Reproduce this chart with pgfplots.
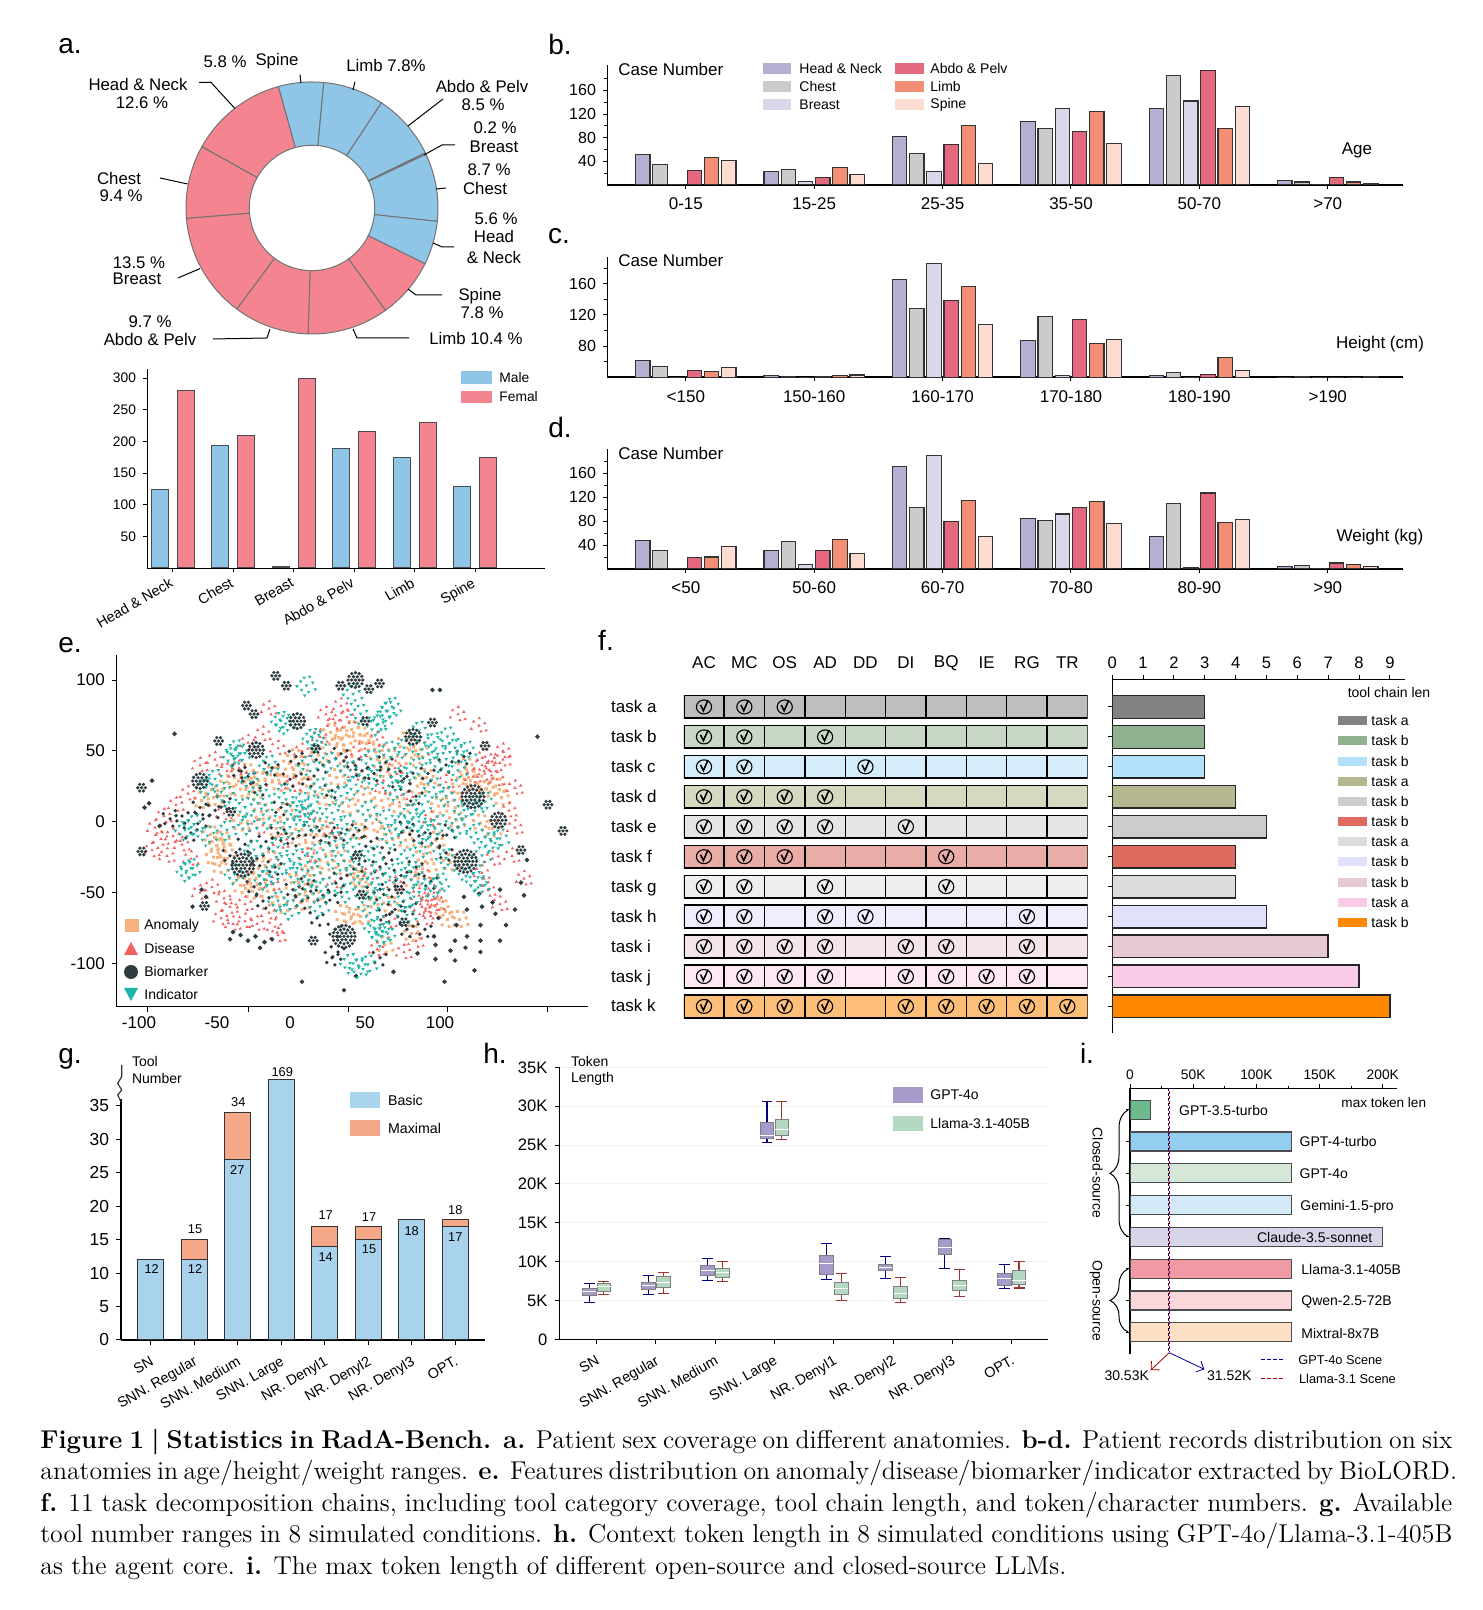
\documentclass[border=0pt]{standalone}
\usepackage{fontspec}
\newfontfamily\arial{Liberation Sans}
\usepackage{pgfplots}
\usepackage{pgfplotstable}
\pgfplotsset{compat=1.18}
\usepgfplotslibrary{statistics}
\usetikzlibrary{decorations.pathreplacing,arrows.meta}

\definecolor{mblue}{HTML}{8FC6E8}
\definecolor{fpink}{HTML}{F4848F}
\definecolor{cH}{HTML}{B4B0D2}
\definecolor{cC}{HTML}{CBCBCB}
\definecolor{cB}{HTML}{D9D8EA}
\definecolor{cA}{HTML}{E4687E}
\definecolor{cL}{HTML}{F28E74}
\definecolor{cS}{HTML}{FCDCD0}
\definecolor{edge}{HTML}{333333}
\definecolor{org}{HTML}{F5B27E}
\definecolor{dis}{HTML}{F1615F}
\definecolor{bio}{HTML}{2F3D40}
\definecolor{ind}{HTML}{1FB5A8}
\definecolor{fa}{HTML}{BEBEBE}\definecolor{ba}{HTML}{828282}
\definecolor{fb}{HTML}{C9D8C6}\definecolor{bb}{HTML}{90B18F}
\definecolor{fc}{HTML}{D5EDFB}\definecolor{bc}{HTML}{B3E0FA}
\definecolor{fd}{HTML}{D6D9BF}\definecolor{bd}{HTML}{B5B88E}
\definecolor{fe}{HTML}{E6E6E6}\definecolor{be}{HTML}{CDCDCD}
\definecolor{ff}{HTML}{E9ACA6}\definecolor{bf}{HTML}{DF6A5F}
\definecolor{fg}{HTML}{EFEFEF}\definecolor{bg}{HTML}{DCDCDC}
\definecolor{fh}{HTML}{EEEEFE}\definecolor{bh}{HTML}{E1E1FB}
\definecolor{fi}{HTML}{F3E5E8}\definecolor{bi}{HTML}{E6C9D2}
\definecolor{fj}{HTML}{FDE8F3}\definecolor{bj}{HTML}{FACBE8}
\definecolor{fk}{HTML}{FDBE78}\definecolor{bk}{HTML}{FF8800}
\definecolor{gblue}{HTML}{A9D3EC}
\definecolor{gorg}{HTML}{F4A888}
\definecolor{hpur}{HTML}{A79BCB}
\definecolor{hgrn}{HTML}{B5D8C3}
\definecolor{ia}{HTML}{6DBB8D}\definecolor{ib}{HTML}{93CDF0}\definecolor{ic}{HTML}{D5E7D8}\definecolor{id}{HTML}{D3E9F8}
\definecolor{ie}{HTML}{D9D5E9}\definecolor{if}{HTML}{F29AA4}\definecolor{ig}{HTML}{F9D7DB}\definecolor{ih}{HTML}{FDE0C5}

\newcommand\sz[1]{\arial\fontsize{#1}{#1}\selectfont}
% text at picture pixels: [anchor]{size pt}{x}{y}{text}
\newcommand\T[5][center]{\node[anchor=#1,inner sep=0pt,font=\sz{#2}] at (#3,#4) {#5};}

\pgfplotsset{
  /pgf/number format/assume math mode=true,
  % left, top, right, bottom of the axis box in picture pixels
  pbox/.style n args={4}{scale only axis,anchor=south west,
    at={({#1*0.5pt},{(1610-#4)*0.5pt})},
    width={(#3-#1)*0.5pt},height={(#4-#2)*0.5pt}},
  every tick/.style={black,line width=.5pt},
  tick align=outside,
  major tick length=2pt,minor tick length=1.3pt,
  scaled ticks=false,
  sixb/.style={ybar=1.4pt,bar width=7.2pt,axis lines*=left,
    xmin=-0.614,xmax=5.586,xtick={0,...,5},
    x axis line style={line width=1pt},
    tick label style={font=\sz{8}},
    xticklabel style={font=\sz{8.5},yshift=-1pt},
    every axis plot/.append style={draw=edge,line width=.55pt}},
  rotlab/.style={xticklabel style={rotate=30,anchor=north east,font=\sz{7.2},inner sep=1pt,yshift=-3pt,xshift=-2pt}}
}

% plot marks
\pgfdeclareplotmark{chk}{%
  \pgfsetlinewidth{.55pt}%
  \pgfpathellipse{\pgfpointorigin}{\pgfqpoint{3.8pt}{0pt}}{\pgfqpoint{0pt}{3.5pt}}\pgfusepathqstroke
  \pgfsetlinewidth{.8pt}%
  \pgfpathmoveto{\pgfqpoint{-1.7pt}{1pt}}\pgfpathlineto{\pgfqpoint{-.3pt}{-1.9pt}}\pgfpathlineto{\pgfqpoint{2pt}{3.4pt}}\pgfusepathqstroke}
\def\sq#1#2{\pgfpathrectangle{\pgfqpoint{#1pt}{#2pt}}{\pgfqpoint{1.5pt}{1.5pt}}}
\pgfdeclareplotmark{cq}{\sq{0}{0}\sq{3.3}{.8}\sq{-3.4}{1.2}\sq{.8}{-3.6}\sq{-2.7}{-2.8}\sq{4.2}{-2.6}\sq{-1}{4}\sq{2.2}{3.6}\pgfusepathqfill}
\def\up#1#2{\pgfpathmoveto{\pgfpoint{#1pt-.85pt}{#2pt-.6pt}}\pgfpathlineto{\pgfpoint{#1pt+.85pt}{#2pt-.6pt}}\pgfpathlineto{\pgfpoint{#1pt}{#2pt+.8pt}}\pgfpathclose}
\def\dn#1#2{\pgfpathmoveto{\pgfpoint{#1pt-.9pt}{#2pt+.65pt}}\pgfpathlineto{\pgfpoint{#1pt+.9pt}{#2pt+.65pt}}\pgfpathlineto{\pgfpoint{#1pt}{#2pt-.85pt}}\pgfpathclose}
\pgfdeclareplotmark{ct}{\up{0}{0}\up{2.9}{1.2}\up{-2.7}{2}\up{1}{-2.9}\up{-3.8}{-1.6}\up{3.6}{-2.4}\up{.2}{3.7}\pgfusepathqfill}
\pgfdeclareplotmark{cd}{\dn{0}{0}\dn{3.1}{1.4}\dn{-2.9}{2}\dn{1}{-3.2}\dn{-2.5}{-2.2}\dn{4.4}{-2}\dn{-4.8}{-.4}\dn{1.6}{4.4}\dn{-1.2}{3.9}\dn{-.9}{-5}\pgfusepathqfill}
\def\dt#1#2{\pgfpathcircle{\pgfqpoint{#1pt}{#2pt}}{.95pt}}
\pgfdeclareplotmark{cb}{\dt{0}{0}\dt{3}{1.6}\dt{-2.6}{-2.4}\dt{1.4}{-3.6}\dt{-3.4}{2.6}\pgfusepathqfill}
\def\ring#1#2#3{\foreach \a in {0,#1,...,#2}{\pgfpathcircle{\pgfpointpolar{\a}{#3}}{.9pt}\pgfusepathqfill}}
\pgfdeclareplotmark{bs}{\pgfpathcircle{\pgfpointorigin}{.9pt}\pgfusepathqfill\ring{60}{300}{1.9pt}}
\pgfdeclareplotmark{bm}{\pgfpathcircle{\pgfpointorigin}{.9pt}\pgfusepathqfill\ring{60}{300}{1.9pt}\ring{30}{330}{3.7pt}}
\pgfdeclareplotmark{bl}{\pgfpathcircle{\pgfpointorigin}{.9pt}\pgfusepathqfill\ring{60}{300}{1.9pt}\ring{30}{330}{3.7pt}\ring{20}{340}{5.5pt}}

% donut sector: start %, end %, colour
\newcommand\sector[3]{%
  \gdef\pts{}%
  \foreach \k in {0,...,16}{%
    \pgfmathsetmacro\ang{-15.5+3.6*(#1+(#2-#1)*\k/16)}%
    \pgfmathsetmacro\px{126*sin(\ang)}\pgfmathsetmacro\py{126*cos(\ang)}%
    \xdef\pts{\pts(\px,\py)}}%
  \foreach \k in {16,...,0}{%
    \pgfmathsetmacro\ang{-15.5+3.6*(#1+(#2-#1)*\k/16)}%
    \pgfmathsetmacro\px{62.7*sin(\ang)}\pgfmathsetmacro\py{62.7*cos(\ang)}%
    \xdef\pts{\pts(\px,\py)}}%
  \edef\tmp{\noexpand\addplot[fill=#3,draw=black!55,line width=.5pt] coordinates {\pts} --cycle;}\tmp}

\newcommand\sixbars[1]{%
  \addplot[fill=cH] table[x=n,y=H]{#1};
  \addplot[fill=cC] table[x=n,y=C]{#1};
  \addplot[fill=cB] table[x=n,y=B]{#1};
  \addplot[fill=cA] table[x=n,y=A]{#1};
  \addplot[fill=cL] table[x=n,y=L]{#1};
  \addplot[fill=cS] table[x=n,y=S]{#1};}

\newcommand\taskrow[2]{%
  \addplot[xbar,bar shift=0pt,bar width=11.3pt,fill=#2,draw=black,line width=.8pt] coordinates {(10,#1)};
  \addplot[only marks,mark=|,mark size=5.65pt,black,line width=.7pt] coordinates {(1,#1)(2,#1)(3,#1)(4,#1)(5,#1)(6,#1)(7,#1)(8,#1)(9,#1)};}
\newcommand\lenbar[3]{\addplot[xbar,bar shift=0pt,bar width=11.3pt,fill=#3,draw=black!85,line width=.7pt] coordinates {(#1,#2)};}
\newcommand\modelbar[3]{\addplot[xbar,bar shift=0pt,bar width=9.5pt,fill=#3,draw=black!70,line width=.6pt] coordinates {(#1,#2)};}

% box: position, colour, whisker colour, low, q1, median, q3, high
\newcommand\bx[8]{\addplot[draw=black!50,fill=#2,line width=.4pt,
  boxplot prepared={draw direction=y,draw position=#1,lower whisker=#4,lower quartile=#5,median=#6,upper quartile=#7,upper whisker=#8,box extend=.231,
    every whisker/.style={draw=#3,line width=.55pt},every median/.style={draw=white,line width=.5pt}}] coordinates {};}

\pgfplotstableread{
n H C B A L S
0 52 35 1 25 47 41
1 23 26 6 13 29 17
2 82 53 23 68 101 37
3 107 95 129 90 124 70
4 129 185 142 193 95 132
5 8 5 0.5 12 5 3
}\tabB
\pgfplotstableread{
n H C B A L S
0 61.6 54 40 49 48 53
1 42 41 40 40.5 42 43
2 165 128 186 139 156 108
3 87 118 42 114 83 89
4 42.5 46 40 44 65 49
5 40 41 40 40 40 41
}\tabC
\pgfplotstableread{
n H C B A L S
0 47 31 1 19 20 37
1 31 46 8 31 49 26
2 172 103 190 80 115 55
3 85 81 92 103 113 76
4 55 110 3 127 78 83
5 4 6 1 10 8 4
}\tabD

\begin{document}
\begin{tikzpicture}
\path[use as bounding box] (0,0) rectangle (741pt,805pt);

% a. donut
\begin{axis}[pbox={180}{76}{444}{340},hide axis,xmin=-132,xmax=132,ymin=-132,ymax=132,clip=false]
\sector{0}{5.8}{mblue}
\sector{5.8}{13.6}{mblue}
\sector{13.6}{22.1}{mblue}
\sector{22.1}{22.3}{mblue}
\sector{22.3}{31}{mblue}
\sector{31}{36.6}{mblue}
\sector{36.6}{44.4}{fpink}
\sector{44.4}{54.8}{fpink}
\sector{54.8}{64.5}{fpink}
\sector{64.5}{78}{fpink}
\sector{78}{87.4}{fpink}
\sector{87.4}{100}{fpink}
\end{axis}

% a. bars
\begin{axis}[pbox={147}{369}{545}{568},axis lines*=left,ybar=4.5pt,bar width=8.5pt,
  xmin=-0.43,xmax=6.155,ymin=0,ymax=314.5,ytick={50,100,...,300},xtick={0,...,5},
  xticklabels={Head \& Neck,Chest,Breast,Abdo \& Pelv,Limb,Spine},
  tick label style={font=\sz{6.9}},
  xticklabel style={rotate=30,anchor=north east,font=\sz{7.2},inner sep=1pt,yshift=0pt,xshift=-2pt},
  every axis plot/.append style={draw=black!70,line width=.5pt}]
\addplot[fill=mblue] coordinates {(0,124)(1,194)(2,3)(3,189)(4,174)(5,129)};
\addplot[fill=fpink] coordinates {(0,281)(1,209)(2,300)(3,215)(4,230)(5,174)};
\end{axis}

% b, c, d.
\begin{axis}[pbox={607}{65}{1403}{185},sixb,ymin=0,ymax=203,ytick={40,80,120,160},minor ytick={20,60,...,200},
  xticklabels={0-15,15-25,25-35,35-50,50-70,>70}]
\sixbars{\tabB}
\end{axis}
\begin{axis}[pbox={607}{257.3}{1403}{377.4},sixb,ymin=40,ymax=194,ytick={80,120,160},minor ytick={60,100,...,180},
  xticklabels={<150,150-160,160-170,170-180,180-190,>190}]
\sixbars{\tabC}
\end{axis}
\begin{axis}[pbox={607}{449.4}{1403}{569},sixb,ymin=0,ymax=200,ytick={40,80,120,160},minor ytick={20,60,...,200},
  xticklabels={<50,50-60,60-70,70-80,80-90,>90}]
\sixbars{\tabD}
\end{axis}

% e. scatter
\begin{axis}[pbox={116.8}{655}{588}{1006.7},axis lines*=left,
  xmin=-115.5,xmax=198.7,ymin=-130.6,ymax=117.7,
  xtick={-95.3,-28,38.7,105.3,172},xticklabels={},
  ytick={-100,-50,0,50,100},yticklabels={-100,-50,0,50,100},
  tick label style={font=\sz{8.5}},major tick length=2.5pt]
\addplot[only marks,mark=cq,org] coordinates {(-38,30)(-30,34)(-22,28)(-34,22)(-26,20)(-46,22)(-52,16)(-60,14)(-14,32)(-4,36)(6,34)(2,44)(-8,26)(-54,-10)(-50,-18)(-46,-14)(-52,-26)(-48,-32)(-44,-22)(26,62)(34,58)(40,64)(46,60)(30,52)(50,54)(56,48)(66,44)(60,36)(76,56)(86,50)(80,44)(36,44)(18,46)(10,24)(22,16)(30,30)(38,10)(48,18)(60,14)(72,10)(84,24)(90,30)(98,10)(20,-6)(30,-18)(44,-8)(54,-2)(62,-10)(76,-14)(88,-24)(96,-14)(106,-30)(-10,-6)(-20,6)(-34,-2)(-4,6)(4,-12)(14,-16)(118,30)(124,26)(130,22)(136,24)(112,24)(108,14)(116,38)(126,-2)(134,-6)(110,0)(140,16)(-22,-34)(-14,-28)(-28,-42)(-34,-46)(-26,-50)(-16,-50)(0,-44)(8,-40)(14,-34)(24,-30)(36,-34)(46,-42)(-8,-60)(6,-58)(14,-52)(40,-68)(46,-68)(34,-66)(52,-56)(66,-60)(80,-42)(92,-36)(104,-70)(112,-70)(80,-80)(62,-88)(100,-62)(44,-40)};
\addplot[only marks,mark=ct,dis] coordinates {(-90,-4)(-86,-12)(-92,-20)(-82,-24)(-78,-10)(-84,4)(-72,-16)(-66,-26)(-76,12)(-68,20)(-60,40)(-50,44)(-42,36)(-28,56)(-18,62)(-14,80)(34,82)(38,74)(30,70)(24,76)(20,60)(8,50)(-8,52)(46,50)(58,58)(70,38)(112,76)(126,68)(130,46)(136,40)(142,44)(130,34)(138,30)(150,24)(142,50)(128,40)(122,32)(146,8)(150,-4)(148,-24)(156,-40)(135,-26)(128,-36)(132,-48)(140,-58)(-60,-50)(-52,-46)(-44,-54)(-40,-60)(-46,-68)(-38,-72)(-30,-70)(-22,-72)(-14,-64)(-10,-74)(-8,-80)(-30,-58)(92,-56)(94,-64)(88,-60)(98,-58)(86,-52)(90,-68)(96,-50)(12,6)(28,-6)(44,34)(62,24)(78,16)(94,2)(104,28)(88,-36)(70,-44)(54,-36)(30,-42)(12,-24)(-6,-14)(-22,-4)(-44,6)(-34,38)(2,26)(-12,-44)(66,-70)(76,-92)(84,-84)(58,-90)};
\addplot[only marks,mark=*,mark size=.95pt,bio] coordinates {(-77,62)(95,93)(100,93)(165,60)(8,-113)(36,-119)(44,-109)(69,-106)(103,-113)(123,-105)(97,-97)(110,-98)(85,-93)(97,-87)(107,-91)(117,-89)(127,-92)(127,-84)(110,-84)(118,-81)(96,-81)(127,-73)(111,-73)(99,-68)(118,-62)(128,-60)(116,-53)(126,-51)(140,-48)(156,-52)(154,-43)(150,-62)(137,-65)(135,-57)(144,-73)(140,-84)(158,-27)(-38,-78)(-40,-83)(-33,-80)(-28,-84)(-23,-81)(-17,-85)(-12,-83)(-20,-89)(-59,-48)(-56,-53)(-65,-60)(-92,29)(-94,13)(-97,10)(-87,-3)};
\addplot[only marks,mark=cb,bio] coordinates {(-60,10)(-72,4)(-80,2)(-66,-8)(-58,2)(-50,8)(-44,14)(-34,36)(-28,32)(-20,24)(-12,38)(-6,10)(0,30)(4,46)(12,30)(22,40)(28,22)(34,48)(42,42)(48,36)(56,34)(64,42)(72,28)(78,32)(84,18)(92,34)(104,40)(116,46)(108,-6)(98,-12)(86,-10)(78,-4)(66,-22)(54,-14)(46,-6)(34,-8)(24,-10)(14,-6)(2,-12)(-8,-8)(-16,-14)(-30,-16)(-40,-24)(-22,-26)(-10,-32)(2,-48)(12,-44)(22,-52)(34,-40)(46,-30)(60,-32)(74,-38)(84,-32)(94,-42)(104,-22)(-24,-46)(-18,-56)(8,-56)(18,-68)(30,-52)(56,-50)(66,-48)(80,-60)(70,-62)(64,-66)(78,-76)(90,-76)(30,-76)(60,-96)(28,-96)(32,-92)};
\addplot[only marks,mark=cd,ind] coordinates {(-36,51)(-33,48)(-38,46)(-6,71)(-3,69)(15,59)(18,57)(68,81)(65,78)(11,96)(42,90)(47,76)(62,72)(58,68)(86,64)(96,56)(105,60)(110,52)(118,50)(92,48)(76,52)(66,50)(100,42)(84,38)(112,36)(74,32)(54,44)(40,36)(26,42)(12,40)(-14,40)(-26,28)(122,12)(130,14)(116,8)(104,18)(96,24)(88,12)(70,22)(56,30)(44,26)(34,18)(20,24)(8,14)(4,8)(10,4)(14,12)(-4,20)(-18,16)(-30,10)(-42,18)(-56,24)(-50,30)(-64,-2)(-70,-6)(-55,-10)(-42,-6)(-28,-2)(-14,2)(0,-4)(16,0)(28,6)(38,-2)(52,8)(64,2)(74,-2)(80,6)(86,0)(92,-6)(100,-2)(112,-4)(124,-8)(134,-14)(140,-12)(128,-24)(-69,-35)(-66,-33)(-37,-37)(-17,-41)(-14,-38)(-24,-20)(-8,-18)(6,-26)(18,-22)(30,-14)(42,-18)(56,-24)(68,-12)(78,-26)(90,-18)(104,-26)(116,-34)(127,-45)(124,-42)(100,-43)(97,-46)(84,-38)(70,-36)(58,-40)(44,-34)(32,-30)(16,-38)(4,-36)(-4,-30)(10,-48)(24,-46)(38,-50)(50,-46)(60,-54)(76,-56)(86,-50)(20,-60)(0,-62)(-8,-56)(52,-60)(61,-81)(64,-78)(78,-66)(56,-75)(40,-100)(46,-103)(52,-101)(60,-73)};
\addplot[only marks,mark=bl,bio] coordinates {(-31.4,-30.6)(117,-28)(122,17.7)(36,-81)};
\addplot[only marks,mark=bm,bio] coordinates {(-60,28.7)(-22.6,50.6)(139,1)(43.6,100)(4.8,71)(82,60)};
\addplot[only marks,mark=bs,bio] coordinates {(130,53.5)(154,-20)(-98.8,-21)(182,-6.5)(-99,24)(172,12)(-57,-59.5)(-9.5,103)(-2.5,96)(33.8,96)(59.7,97.6)(52.6,93.6)(-29,82)(-24,76)(-47.6,57)(17.3,51.4)(50,71)(95,70)(45,-23.5)(47.6,-51.6)(-39.4,7)(73,-48)(15.5,-84)(76,-71)};
\end{axis}

% f. coverage grid
\begin{axis}[pbox={683.8}{692}{1087.5}{1022},hide axis,xmin=0,xmax=10,ymin=-0.5,ymax=10.52,y dir=reverse]
\taskrow{0}{fa}\taskrow{1}{fb}\taskrow{2}{fc}\taskrow{3}{fd}\taskrow{4}{fe}\taskrow{5}{ff}
\taskrow{6}{fg}\taskrow{7}{fh}\taskrow{8}{fi}\taskrow{9}{fj}\taskrow{10}{fk}
\addplot[only marks,mark=chk,black] coordinates {
(.5,0)(1.5,0)(2.5,0)
(.5,1)(1.5,1)(3.5,1)
(.5,2)(1.5,2)(4.5,2)
(.5,3)(1.5,3)(2.5,3)(3.5,3)
(.5,4)(1.5,4)(2.5,4)(3.5,4)(5.5,4)
(.5,5)(1.5,5)(2.5,5)(6.5,5)
(.5,6)(1.5,6)(3.5,6)(6.5,6)
(.5,7)(1.5,7)(3.5,7)(4.5,7)(8.5,7)
(.5,8)(1.5,8)(2.5,8)(3.5,8)(5.5,8)(6.5,8)(8.5,8)
(.5,9)(1.5,9)(2.5,9)(3.5,9)(5.5,9)(6.5,9)(7.5,9)(8.5,9)
(.5,10)(1.5,10)(2.5,10)(3.5,10)(5.5,10)(6.5,10)(7.5,10)(8.5,10)(9.5,10)};
\end{axis}

% f. tool chain length
\begin{axis}[pbox={1112.2}{679.3}{1404.6}{1033},axis x line*=top,axis y line*=left,y dir=reverse,
  xmin=0,xmax=9.478,ymin=-0.925,ymax=10.89,xtick={0,...,9},ytick={0,...,10},yticklabels={},
  tick label style={font=\sz{8.3}},xticklabel style={yshift=0pt},
  x axis line style={line width=.7pt},y axis line style={line width=.7pt}]
\lenbar{3}{0}{ba}\lenbar{3}{1}{bb}\lenbar{3}{2}{bc}\lenbar{4}{3}{bd}\lenbar{5}{4}{be}\lenbar{4}{5}{bf}
\lenbar{4}{6}{bg}\lenbar{5}{7}{bh}\lenbar{7}{8}{bi}\lenbar{8}{9}{bj}\lenbar{9}{10}{bk}
\end{axis}

% g. tool number
\begin{axis}[pbox={121}{1099.3}{485}{1340},axis lines*=left,clip=false,ybar stacked,bar width=13.15pt,
  xmin=-0.683,xmax=7.685,ymin=0,ymax=36,ytick={0,5,...,35},xtick={0,...,7},
  xticklabels={SN,SNN. Regular,SNN. Medium,SNN. Large,NR. Denyl1,NR. Denyl2,NR. Denyl3,OPT.},rotlab,
  yticklabel style={font=\sz{8.7}},
  every axis plot/.append style={draw=edge,line width=.5pt},major tick length=2.5pt,
  x axis line style={line width=.6pt},y axis line style={line width=.6pt}]
\addplot[fill=gblue] coordinates {(0,12)(1,12)(2,27)(3,39)(4,14)(5,15)(6,18)(7,17)};
\addplot[fill=gorg] coordinates {(0,0)(1,3)(2,7)(3,0)(4,3)(5,2)(6,0)(7,1)};
\end{axis}

% h. token length
\begin{axis}[pbox={559.5}{1067.3}{1048}{1339.3},axis lines*=left,
  xmin=-0.624,xmax=7.614,ymin=0,ymax=35,ytick={0,5,...,35},
  yticklabels={0,5K,10K,15K,20K,25K,30K,35K},xtick={0,...,7},
  xticklabels={SN,SNN. Regular,SNN. Medium,SNN. Large,NR. Denyl1,NR. Denyl2,NR. Denyl3,OPT.},rotlab,
  yticklabel style={font=\sz{8.3}},ymajorgrids,major grid style={black!6,line width=.4pt},major tick length=2.5pt,
  x axis line style={line width=.6pt},y axis line style={line width=.6pt}]
\def\pu{blue!50!black}\def\re{red!55!black!80}
\bx{-.125}{hpur}{\pu}{4.76}{5.7}{6.1}{6.57}{7.2}
\bx{.875}{hpur}{\pu}{5.75}{6.44}{6.9}{7.3}{8.2}
\bx{1.875}{hpur}{\pu}{7.55}{8.28}{8.8}{9.48}{10.34}
\bx{2.875}{hpur}{\pu}{25.3}{25.8}{26.2}{27.9}{30.6}
\bx{3.875}{hpur}{\pu}{7.64}{8.41}{9.7}{10.77}{12.36}
\bx{4.875}{hpur}{\pu}{7.85}{8.88}{9.27}{9.66}{10.6}
\bx{5.875}{hpur}{\pu}{9.06}{10.94}{11.8}{12.8}{13}
\bx{6.875}{hpur}{\pu}{6.48}{6.95}{7.77}{8.5}{9.57}
\bx{.125}{hgrn}{\re}{5.8}{6.14}{6.78}{7.17}{7.47}
\bx{1.125}{hgrn}{\re}{5.92}{6.74}{7.34}{8.11}{8.58}
\bx{2.125}{hgrn}{\re}{7.38}{7.94}{8.58}{9.14}{10}
\bx{3.125}{hgrn}{\re}{25.67}{26.2}{26.95}{28.24}{30.6}
\bx{4.125}{hgrn}{\re}{4.98}{5.8}{6.48}{7.3}{8.5}
\bx{5.125}{hgrn}{\re}{4.76}{5.32}{5.92}{6.82}{7.98}
\bx{6.125}{hgrn}{\re}{5.45}{6.31}{6.91}{7.55}{9.01}
\bx{7.125}{hgrn}{\re}{6.6}{7.08}{7.55}{8.84}{10.04}
\end{axis}

% i. max token length
\begin{axis}[pbox={1130}{1088.3}{1396.7}{1354},axis x line*=top,axis y line*=left,y dir=reverse,
  xmin=0,xmax=211,ymin=-0.676,ymax=7.68,xtick={0,50,...,200},minor x tick num=1,
  xticklabels={0,50K,100K,150K,200K},ytick={0,...,7},yticklabels={},
  tick label style={font=\sz{6.9}},xticklabel style={yshift=-1pt},
  x axis line style={line width=.7pt},y axis line style={line width=.7pt}]
\modelbar{16.3}{0}{ia}\modelbar{128}{1}{ib}\modelbar{128}{2}{ic}\modelbar{128}{3}{id}
\modelbar{200}{4}{ie}\modelbar{128}{5}{if}\modelbar{128}{6}{ig}\modelbar{128}{7}{ih}
\addplot[dash pattern=on 1.5pt off 1pt,blue!55!black,line width=.6pt] coordinates {(30.53,-0.676)(30.53,7.6)};
\addplot[dash pattern=on 1.5pt off 1pt,dash phase=1.2pt,red!65!black,line width=.6pt] coordinates {(31.52,-0.676)(31.52,7.6)};
\end{axis}

% everything that is only text, keys and leaders, in picture pixels
\begin{scope}[x=0.5pt,y=-0.5pt,yshift=805pt]
% panel letters
\T{14}{70}{46}{a.}\T{14}{560}{45}{b.}\T{14}{559}{236}{c.}\T{14}{560}{428}{d.}
\T{14}{70}{645}{e.}\T{14}{606}{640}{f.}\T{14}{70}{1059}{g.}\T{14}{495}{1053}{h.}\T{14}{1087}{1053}{i.}
% a. labels
\begin{scope}[yshift=-.5pt]
\T{8.4}{225}{61}{5.8 \%}\T{8.4}{277}{60}{Spine}\T{8.4}{386}{65}{Limb 7.8\%}
\T{8.4}{482}{86}{Abdo \& Pelv}\T{8.4}{483}{104}{8.5 \%}\T{8.4}{495}{127}{0.2 \%}\T{8.4}{494}{146}{Breast}
\T{8.4}{489}{169}{8.7 \%}\T{8.4}{485}{188}{Chest}\T{8.4}{496}{218}{5.6 \%}\T{8.4}{494}{236}{Head}\T{8.4}{494}{257}{\& Neck}
\T{8.4}{480}{295}{Spine}\T{8.4}{482}{312}{7.8 \%}\T{8.4}{476}{338}{Limb 10.4 \%}
\T{8.4}{150}{321}{9.7 \%}\T{8.4}{150}{339}{Abdo \& Pelv}\T{8.4}{139}{262}{13.5 \%}\T{8.4}{137}{278}{Breast}
\T{8.4}{119}{178}{Chest}\T{8.4}{121}{195}{9.4 \%}\T{8.4}{138}{84}{Head \& Neck}\T{8.4}{142}{102}{12.6 \%}
\end{scope}
\draw[line width=.5pt] (199,82.4)--(211,82.4)--(235,108.6) (300,74.7)--(301,83) (355,81.6)--(353,90)
  (443,99)--(408,126) (455,145)--(442,145)--(424,155) (446,188)--(436,189)
  (454,247)--(442,247)--(433,243) (442,295)--(416,295)--(408,289) (409,338)--(357,338)--(353,329)
  (213,339)--(267,338)--(270,329) (178,278)--(200,268.6) (160,178)--(187.5,184);
% a. key
\fill[mblue] (461,371) rectangle (492,384);\fill[fpink] (461,391) rectangle (492,403);
\T[west]{6.9}{499}{378}{Male}\T[west]{6.9}{499}{397}{Femal}
% b-d. key and titles
\foreach \c/\t/\y in {cH/Head \& Neck/68.6,cC/Chest/86.2,cB/Breast/105}{\fill[\c] (763,\y-5.5) rectangle (791,\y+5.5);\T[west]{7}{799}{\y}{\t}}
\foreach \c/\t/\y in {cA/Abdo \& Pelv/68.6,cL/Limb/86.2,cS/Spine/105}{\fill[\c] (895,\y-5.5) rectangle (923.5,\y+5.5);\T[west]{7}{930}{\y}{\t}}
\T[west]{8.5}{618}{69.4}{Case Number}\T[west]{8.5}{618}{260}{Case Number}\T[west]{8.5}{618}{453}{Case Number}
\T{8.5}{1357}{150.5}{Age}\T{8.5}{1380}{344.5}{Height (cm)}\T{8.5}{1380}{537.4}{Weight (kg)}
% e. tick labels and key
\T{8.5}{139}{1023}{-100}\T{8.5}{217}{1023}{-50}\T{8.5}{290}{1023}{0}\T{8.5}{365}{1023}{50}\T{8.5}{440}{1023}{100}
\fill[org] (124.6,919) rectangle (138.6,932.3);
\fill[dis] (124,955) -- (138,955) -- (131,942) -- cycle;
\fill[bio] (131,972) circle (7);
\fill[ind] (124,988) -- (138,988) -- (131,1001) -- cycle;
\T[west]{7}{144}{926}{Anomaly}\T[west]{7}{144}{949}{Disease}\T[west]{7}{144}{972}{Biomarker}\T[west]{7}{144}{995}{Indicator}
% f. headers and key
\foreach \n [count=\i from 0] in {AC,MC,OS,AD,DD,DI,BQ,IE,RG,TR}{\T{8.5}{704+40.37*\i}{663}{\n}}
\foreach \n [count=\i from 0] in {a,b,c,d,e,f,g,h,i,j,k}{\T[west]{8.5}{610.8}{708.3+29.93*\i}{task \n\vphantom{gk}}}
\T{7}{1389}{693}{tool chain len}
\foreach \c/\n [count=\i from 0] in {ba/a,bb/b,bc/b,bd/a,be/b,bf/b,bg/a,bh/b,bi/b,bj/a,bk/b}{%
  \fill[\c] (1337.7,720.7+20.17*\i-4.5) rectangle (1367,720.7+20.17*\i+4.5);
  \T[west]{7}{1371}{720.7+20.17*\i}{task \n}}
% g. labels
\T{6.4}{151.7}{1269.3}{12}\T{6.4}{195}{1269.3}{12}\T{6.4}{195}{1229.3}{15}\T{6.4}{238.3}{1102.3}{34}\T{6.4}{237.3}{1170}{27}
\T{6.4}{282.3}{1071.7}{169}\T{6.4}{325.7}{1215.3}{17}\T{6.4}{325.7}{1256.7}{14}\T{6.4}{369}{1216.7}{17}\T{6.4}{369}{1249.3}{15}
\T{6.4}{411.7}{1230.7}{18}\T{6.4}{455.3}{1210}{18}\T{6.4}{455.3}{1236.7}{17}
\draw[line width=.6pt,edge] (121,1101.7)--(117.7,1095)--(121.7,1090)--(117.7,1083.3)--(121.7,1076.7)--(121.7,1065);
\T[west]{7}{131.7}{1062}{Tool}\T[west]{7}{131.7}{1079}{Number}
\fill[gblue] (350,1091.7) rectangle (380,1107.7);\fill[gorg] (350,1120) rectangle (380,1136);
\T[west]{7.1}{387.7}{1100}{Basic}\T[west]{7.1}{387.7}{1128}{Maximal}
% h. labels
\T[west]{7}{570.6}{1062}{Token}\T[west]{7}{570.6}{1079}{Length}
\fill[hpur] (893,1087) rectangle (922.5,1102.7);\fill[hgrn] (893,1115.7) rectangle (922.5,1131.3);
\T[west]{7}{930}{1095}{GPT-4o}\T[west]{7}{930}{1124}{Llama-3.1-405B}
% i. labels
\T[west]{7}{1178.7}{1111}{GPT-3.5-turbo}\T[west]{7}{1299.3}{1142}{GPT-4-turbo}\T[west]{7}{1299.3}{1174}{GPT-4o}
\T[west]{7}{1300}{1207}{Gemini-1.5-pro}\T[west]{7}{1256.7}{1238}{Claude-3.5-sonnet}\T[west]{7}{1301}{1270}{Llama-3.1-405B}
\T[west]{7}{1301}{1302}{Qwen-2.5-72B}\T[west]{7}{1301}{1334}{Mixtral-8x7B}\T[west]{6.8}{1341}{1103}{max token len}
\draw[decorate,decoration={brace,amplitude=9pt,aspect=.5,mirror},line width=.5pt] (1128,1110) -- (1128,1236.7);
\draw[decorate,decoration={brace,amplitude=9pt,aspect=.5,mirror},line width=.5pt] (1128,1269) -- (1128,1332);
\node[rotate=-90,inner sep=0pt,font=\sz{7}] at (1097.7,1173) {Closed-source};
\node[rotate=-90,inner sep=0pt,font=\sz{7}] at (1096,1300.7) {Open-source};
\draw[-{Straight Barb[length=3pt]},red!60!black,line width=.4pt] (1169.3,1352.7)--(1150.7,1370);
\draw[-{Straight Barb[length=3pt]},blue!60!black,line width=.4pt] (1169.3,1352.7)--(1204.3,1369.3);
\T{7}{1126.7}{1376}{30.53K}\T{7}{1229.3}{1376}{31.52K}
\draw[dash pattern=on 2pt off 1pt,blue!60!black,line width=.5pt] (1261,1360)--(1285,1360);
\draw[dash pattern=on 2pt off 1pt,red!70!black,line width=.5pt] (1261,1378.7)--(1285,1378.7);
\T[west]{6.4}{1298}{1359.7}{GPT-4o Scene}\T[west]{6.4}{1298.7}{1378.7}{Llama-3.1 Scene}
% caption
\def\capfont{\rmfamily\fontsize{12.9}{15}\selectfont}
\node[anchor=base west,inner sep=0pt] at (40,1449) {\capfont\hbox to 706pt{\textbf{Figure 1 | Statistics in RadA-Bench. a.} Patient sex coverage on different anatomies. \textbf{b-d.} Patient records distribution on six}};
\node[anchor=base west,inner sep=0pt] at (40,1479.5) {\capfont\hbox to 706pt{anatomies in age/height/weight ranges. \textbf{e.} Features distribution on anomaly/disease/biomarker/indicator extracted by BioLORD.}};
\node[anchor=base west,inner sep=0pt] at (40,1511.5) {\capfont\hbox to 706pt{\textbf{f.} 11 task decomposition chains, including tool category coverage, tool chain length, and token/character numbers. \textbf{g.} Available}};
\node[anchor=base west,inner sep=0pt] at (40,1543) {\capfont\hbox to 706pt{tool number ranges in 8 simulated conditions. \textbf{h.} Context token length in 8 simulated conditions using GPT-4o/Llama-3.1-405B}};
\node[anchor=base west,inner sep=0pt] at (40,1575) {\capfont as the agent core. \textbf{i.} The max token length of different open-source and closed-source LLMs.};
\end{scope}
\end{tikzpicture}
\end{document}
